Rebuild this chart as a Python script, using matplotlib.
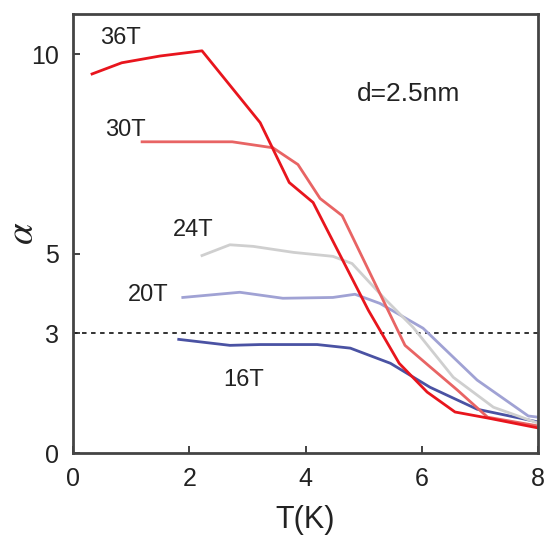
import matplotlib
matplotlib.use("Agg")
import matplotlib.pyplot as plt

plt.rcParams['font.family'] = ['Liberation Sans', 'DejaVu Sans']
plt.rcParams['mathtext.fontset'] = 'stix'

# alpha vs T curves at different fields (d=2.5nm)
t36 = [0.33, 0.84, 1.5, 2.22, 3.22, 3.72, 4.13, 5.08, 5.61, 6.09, 6.57, 7.13, 8.0]
a36 = [9.5, 9.78, 9.95, 10.08, 8.28, 6.78, 6.28, 3.58, 2.25, 1.53, 1.03, 0.88, 0.63]

t30 = [1.19, 2.74, 3.44, 3.87, 4.25, 4.63, 5.71, 6.11, 6.61, 7.13, 8.0]
a30 = [7.8, 7.8, 7.65, 7.23, 6.38, 5.95, 2.7, 2.2, 1.58, 0.9, 0.68]

t24 = [2.22, 2.7, 3.1, 3.79, 4.47, 4.8, 5.34, 5.85, 6.54, 7.23, 8.0]
a24 = [4.95, 5.22, 5.18, 5.03, 4.93, 4.75, 3.9, 3.15, 1.9, 1.15, 0.75]

t20 = [1.89, 2.87, 3.61, 4.47, 4.85, 5.28, 6.02, 6.95, 7.83, 8.0]
a20 = [3.9, 4.03, 3.88, 3.9, 3.98, 3.75, 3.13, 1.83, 0.93, 0.9]

t16 = [1.82, 2.7, 3.22, 4.2, 4.77, 5.46, 6.14, 6.95, 8.0]
a16 = [2.85, 2.7, 2.72, 2.72, 2.63, 2.25, 1.65, 1.1, 0.78]

fig = plt.figure(figsize=(5.52, 5.42), dpi=100)
ax = fig.add_axes([0.132, 0.164, 0.843, 0.81])

ax.axhline(3, color='#222222', lw=1.3, ls=(0, (2.5, 2.5)))
ax.plot(t16, a16, color='#4a52a3', lw=2)
ax.plot(t20, a20, color='#a0a2d4', lw=2)
ax.plot(t24, a24, color='#cfcfcf', lw=2)
ax.plot(t30, a30, color='#e86464', lw=2)
ax.plot(t36, a36, color='#e8151d', lw=2)

lab = dict(fontsize=17, ha='center', va='center', color='#222222')
ax.text(0.81, 10.4, '36T', **lab)
ax.text(0.9, 8.1, '30T', **lab)
ax.text(2.07, 5.6, '24T', **lab)
ax.text(1.29, 3.97, '20T', **lab)
ax.text(2.94, 1.83, '16T', **lab)
ax.text(5.77, 9.0, 'd=2.5nm', fontsize=19, ha='center', va='center', color='#222222')

ax.set_xlim(0, 8)
ax.set_ylim(0, 11)
ax.set_xticks([0, 2, 4, 6, 8])
ax.set_yticks([0, 3, 5, 10])
ax.tick_params(direction='in', length=5, width=1.2, labelsize=18, colors='#222222', pad=10)
for s in ax.spines.values():
    s.set_linewidth(2)
    s.set_color('#444444')

ax.set_xlabel('T(K)', fontsize=22, color='#222222', labelpad=10)
ax.set_ylabel(r'$\alpha$', fontsize=28, color='#222222')
ax.yaxis.set_label_coords(-0.068, 0.5)

fig.savefig('out.png', dpi=100)
